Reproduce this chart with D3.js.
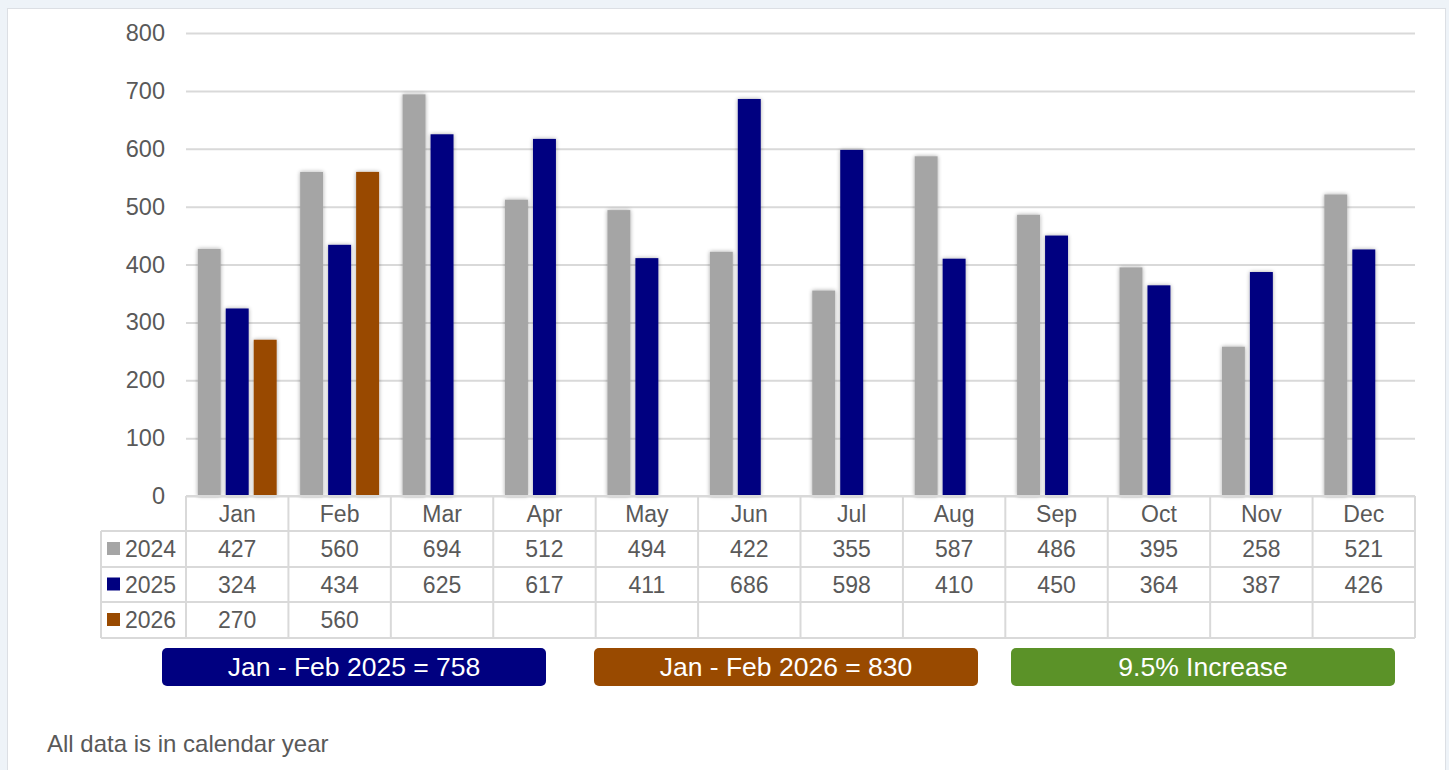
<!DOCTYPE html>
<html><head><meta charset="utf-8">
<script src="https://cdn.jsdelivr.net/npm/d3@7"></script>
<style>
html,body{margin:0;padding:0;background:#eef3f8;}
svg{display:block;font-family:"Liberation Sans",Arial,sans-serif;}
</style></head>
<body>
<script>
const months=["Jan","Feb","Mar","Apr","May","Jun","Jul","Aug","Sep","Oct","Nov","Dec"];
const seriesNames=["2024","2025","2026"];
const v2024=[427,560,694,512,494,422,355,587,486,395,258,521];
const v2025=[324,434,625,617,411,686,598,410,450,364,387,426];
const v2026=[270,560];
const colors=["#a5a5a5","#000080","#994a00"];
const yTicks=[0,100,200,300,400,500,600,700,800];
const boxTexts=["Jan - Feb 2025 = 758","Jan - Feb 2026 = 830","9.5% Increase"];
const boxColors=["#000080","#994a00","#5b9228"];
const note="All data is in calendar year";
const seriesData=[v2024,v2025,v2026];

const W=1449,H=770;
const svg=d3.select("body").append("svg").attr("width",W).attr("height",H);
const defs=svg.append("defs");
const f=defs.append("filter").attr("id","sh").attr("x","-30%").attr("y","-5%").attr("width","160%").attr("height","110%");
f.append("feGaussianBlur").attr("in","SourceAlpha").attr("stdDeviation",2.2);
f.append("feOffset").attr("dx",0).attr("dy",0).attr("result","b");
f.append("feComponentTransfer").append("feFuncA").attr("type","linear").attr("slope",0.35);
const fm=f.append("feMerge");fm.append("feMergeNode");fm.append("feMergeNode").attr("in","SourceGraphic");

svg.append("rect").attr("x",7.5).attr("y",8.5).attr("width",1438).attr("height",780).attr("fill","#fff").attr("stroke","#dcdfe4");

const x0=186,x1=1415,yTop=33,yBot=496;
const x=d3.scaleBand().domain(months).range([x0,x1]).paddingInner(0).paddingOuter(0);
const xs=d3.scaleBand().domain(seriesNames).range([0,x.bandwidth()]).paddingInner(0.18).paddingOuter(0.42);
const y=d3.scaleLinear().domain([0,800]).range([yBot,yTop]);
const txt="#595959";
const fs="23px";

// grid
const yAxis=d3.axisLeft(y).tickValues(yTicks).tickSize(-(x1-x0)).tickPadding(21);
const ga=svg.append("g").attr("transform",`translate(${x0},0)`).call(yAxis);
ga.select(".domain").remove();
ga.selectAll(".tick line").attr("stroke","#d9d9d9").attr("stroke-width",2);
ga.selectAll(".tick text").attr("fill",txt).style("font-size","23.5px").style("font-family","Liberation Sans, Arial, sans-serif");

// bars
seriesData.forEach((arr,si)=>{
  svg.append("g").attr("filter","url(#sh)").selectAll("rect").data(arr).join("rect")
    .attr("x",(d,i)=>x(months[i])+xs(seriesNames[si]))
    .attr("width",xs.bandwidth())
    .attr("y",d=>y(d)).attr("height",d=>y(0)-y(d))
    .attr("fill",colors[si]);
});

// table
const rowY=[yBot,531,567,602,638];
const tb=svg.append("g");
const lc="#d9d9d9";
tb.append("line").attr("x1",x0).attr("x2",x1).attr("y1",yBot).attr("y2",yBot).attr("stroke",lc).attr("stroke-width",2);
[531,567,602,638].forEach(yy=>tb.append("line").attr("x1",101).attr("x2",x1).attr("y1",yy).attr("y2",yy).attr("stroke",lc).attr("stroke-width",2));
tb.append("line").attr("x1",101).attr("x2",101).attr("y1",531).attr("y2",638).attr("stroke",lc).attr("stroke-width",2);
months.forEach(m=>tb.append("line").attr("x1",x(m)).attr("x2",x(m)).attr("y1",yBot).attr("y2",638).attr("stroke",lc).attr("stroke-width",2));
tb.append("line").attr("x1",x1).attr("x2",x1).attr("y1",yBot).attr("y2",638).attr("stroke",lc).attr("stroke-width",2);
months.forEach(m=>tb.append("text").attr("x",x(m)+x.bandwidth()/2).attr("y",(rowY[0]+rowY[1])/2+8).attr("text-anchor","middle").attr("fill",txt).style("font-size",fs).text(m));
seriesData.forEach((arr,si)=>{
  const cy=(rowY[si+1]+rowY[si+2])/2;
  tb.append("rect").attr("x",107).attr("y",cy-7).attr("width",13).attr("height",13).attr("fill",colors[si]);
  tb.append("text").attr("x",125).attr("y",cy+8).attr("fill",txt).style("font-size",fs).text(seriesNames[si]);
  arr.forEach((v,i)=>tb.append("text").attr("x",x(months[i])+x.bandwidth()/2).attr("y",cy+8).attr("text-anchor","middle").attr("fill",txt).style("font-size",fs).text(v));
});

// boxes
const bx=[162,594,1011];
boxTexts.forEach((t,i)=>{
  svg.append("rect").attr("x",bx[i]).attr("y",648).attr("width",384).attr("height",38).attr("rx",5).attr("fill",boxColors[i]);
  svg.append("text").attr("x",bx[i]+192).attr("y",676).attr("text-anchor","middle").attr("fill","#fff").style("font-size","26.5px").text(t);
});
svg.append("text").attr("x",47).attr("y",752).attr("fill",txt).style("font-size","24px").text(note);
</script>
</body></html>
